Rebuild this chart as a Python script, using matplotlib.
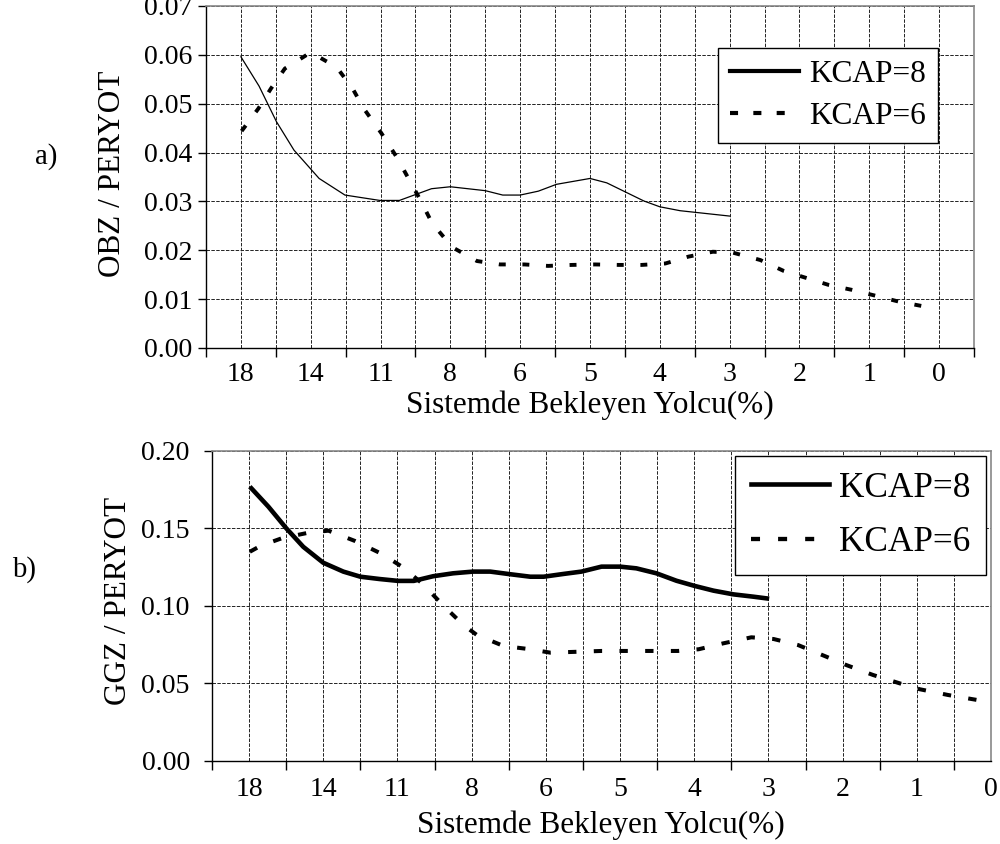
import matplotlib
matplotlib.use("Agg")
import matplotlib.pyplot as plt
from matplotlib.lines import Line2D
import numpy as np

plt.rcParams["font.family"] = ["Liberation Serif", "DejaVu Serif"]
plt.rcParams["lines.scale_dashes"] = False

# ---- shared category axis (labels are % of waiting passengers) ----
categories = ["18", "14", "11", "8", "6", "5", "4", "3", "2", "1", "0"]

# ---- panel a) OBZ / PERYOT  (x in category units, 0 = left edge) ----
a_kcap8_x = [0.50, 0.76, 1.01, 1.26, 1.62, 1.99, 2.49, 2.77, 3.23, 3.50,
             4.00, 4.25, 4.50, 4.76, 5.02, 5.50, 5.74, 6.27, 6.50, 6.79, 7.50]
a_kcap8_y = [0.0596, 0.0536, 0.0463, 0.0405, 0.0347, 0.0313, 0.0302, 0.0302,
             0.0326, 0.0330, 0.0322, 0.0313, 0.0313, 0.0321, 0.0335, 0.0347,
             0.0338, 0.0301, 0.0289, 0.0281, 0.0270]

a_kcap6_x = [0.51, 0.75, 0.93, 1.13, 1.50, 1.87, 2.10, 2.26, 2.51, 2.73,
             2.90, 3.07, 3.24, 3.53, 3.88, 4.21, 4.56, 4.90, 5.24, 5.57,
             5.91, 6.24, 6.58, 6.91, 7.26, 7.55, 7.94, 8.27, 8.56, 8.92,
             9.25, 9.56, 9.92, 10.25]
a_kcap6_y = [0.0444, 0.0490, 0.0531, 0.0572, 0.0605, 0.0575, 0.0531, 0.0490,
             0.0440, 0.0391, 0.0347, 0.0303, 0.0255, 0.0206, 0.0178, 0.0171,
             0.0171, 0.0168, 0.0170, 0.0171, 0.0170, 0.0170, 0.0173, 0.0187,
             0.0197, 0.0195, 0.0180, 0.0158, 0.0145, 0.0129, 0.0119, 0.0108,
             0.0095, 0.0086]

# ---- panel b) GGZ / PERYOT ----
b_kcap8_x = [0.51, 0.76, 1.00, 1.23, 1.50, 1.77, 2.00, 2.26, 2.51, 2.72,
             2.98, 3.25, 3.52, 3.75, 4.02, 4.29, 4.47, 4.74, 4.98, 5.25,
             5.50, 5.72, 5.99, 6.26, 6.51, 6.76, 7.03, 7.30, 7.51]
b_kcap8_y = [0.1768, 0.1639, 0.1500, 0.1380, 0.1277, 0.1220, 0.1187, 0.1172,
             0.1160, 0.1160, 0.1190, 0.1209, 0.1220, 0.1220, 0.1203, 0.1187,
             0.1187, 0.1205, 0.1220, 0.1252, 0.1252, 0.1241, 0.1209, 0.1161,
             0.1127, 0.1097, 0.1073, 0.1058, 0.1045]

b_kcap6_x = [0.51, 0.65, 0.94, 1.30, 1.57, 1.93, 2.29, 2.56, 2.83, 3.12,
             3.39, 3.57, 3.93, 4.29, 4.56, 4.94, 5.25, 5.57, 5.93, 6.28,
             6.56, 6.89, 7.27, 7.57, 7.90, 8.28, 8.55, 8.91, 9.27, 9.54,
             9.92, 10.31]
b_kcap6_y = [0.1348, 0.1385, 0.1435, 0.1471, 0.1484, 0.1417, 0.1334, 0.1252,
             0.1145, 0.1000, 0.0875, 0.0811, 0.0740, 0.0719, 0.0697, 0.0703,
             0.0708, 0.0708, 0.0708, 0.0708, 0.0719, 0.0757, 0.0796, 0.0785,
             0.0746, 0.0671, 0.0617, 0.0553, 0.0499, 0.0461, 0.0424, 0.0392]

xlabel = "Sistemde Bekleyen Yolcu(%)"


def style_axis(ax, xmax, yticks, tick_fs, xpad, ypad):
    n = len(categories)
    ax.set_xlim(0, xmax)
    ax.set_ylim(yticks[0], yticks[-1])
    # tick marks on category boundaries, labels in the middle
    ax.set_xticks(np.arange(0, int(xmax) + 1))
    ax.set_xticklabels([])
    ax.set_xticks(np.arange(n) + 0.5, minor=True)
    ax.set_xticklabels(categories, minor=True, fontsize=tick_fs)
    ax.tick_params(axis="x", which="major", direction="out", length=6.5, width=1)
    ax.tick_params(axis="x", which="minor", length=0, pad=xpad)
    ax.set_yticks(yticks)
    ax.set_yticklabels(["%.2f" % v for v in yticks], fontsize=tick_fs)
    ax.tick_params(axis="y", direction="out", length=6, width=1, pad=ypad)
    ax.grid(True, which="both", axis="x", color="#222222", lw=0.7,
            ls=(0, (2.5, 1)))
    ax.grid(True, which="major", axis="y", color="#222222", lw=0.7,
            ls=(0, (2.5, 1)))
    ax.set_axisbelow(True)
    for s in ("top", "right"):
        ax.spines[s].set_color("#888888")
        ax.spines[s].set_linewidth(1.2)
    for s in ("left", "bottom"):
        ax.spines[s].set_color("black")
        ax.spines[s].set_linewidth(1.0)


fig = plt.figure(figsize=(10, 8.44), dpi=100)

# ---------------- panel a ----------------
ax1 = fig.add_axes([0.206, 0.5877, 0.768, 0.4052])
style_axis(ax1, 11, np.round(np.arange(0, 0.0701, 0.01), 2), 20, 10, 4)
ax1.plot(a_kcap8_x, a_kcap8_y, color="black", lw=0.9)
ax1.plot(a_kcap6_x, a_kcap6_y, color="black", lw=2.8, ls=(0, (5, 12)),
         dash_capstyle="butt")
h1 = [Line2D([], [], color="black", lw=3.0),
      Line2D([], [], color="black", lw=3.0, ls=(0, (5.8, 11)))]
leg1 = ax1.legend(h1, ["KCAP=8", "KCAP=6"], loc="upper right",
                  bbox_to_anchor=(0.9535, 0.878), fontsize=22.6,
                  frameon=True, fancybox=False, framealpha=1,
                  edgecolor="black", handlelength=2.2, handletextpad=0.3,
                  labelspacing=0.4, borderpad=0.4, borderaxespad=0)
leg1.get_frame().set_linewidth(1.0)

# ---------------- panel b ----------------
ax2 = fig.add_axes([0.212, 0.0987, 0.779, 0.3673])
style_axis(ax2, 10.5, np.round(np.arange(0, 0.2001, 0.05), 2), 20, 12, 10)
ax2.plot(b_kcap8_x, b_kcap8_y, color="black", lw=3.3, solid_capstyle="butt")
ax2.plot(b_kcap6_x, b_kcap6_y, color="black", lw=2.9, ls=(0, (6, 12.5)),
         dash_capstyle="butt")
h2 = [Line2D([], [], color="black", lw=3.3),
      Line2D([], [], color="black", lw=3.1, ls=(0, (6.5, 13)))]
leg2 = ax2.legend(h2, ["KCAP=8", "KCAP=6"], loc="upper right",
                  bbox_to_anchor=(0.9936, 0.983), fontsize=25.4,
                  frameon=True, fancybox=False, framealpha=1,
                  edgecolor="black", handlelength=2.2, handletextpad=0.28,
                  labelspacing=0.6, borderpad=0.45, borderaxespad=0)
leg2.get_frame().set_linewidth(1.0)

# ---------------- texts ----------------
fig.text(0.112, 1 - 174 / 844, "OBZ / PERYOT", rotation=90, fontsize=22.5,
         ha="center", va="center")
fig.text(0.118, 1 - 601 / 844, "GGZ / PERYOT", rotation=90, fontsize=22.5,
         ha="center", va="center")
fig.text(0.590, 1 - 412.5 / 844, xlabel, fontsize=22.5, ha="center",
         va="baseline")
fig.text(0.601, 1 - 832.5 / 844, xlabel, fontsize=22.5, ha="center",
         va="baseline")
fig.text(0.035, 1 - 157 / 844, "a)", fontsize=20.7, ha="left", va="center")
fig.text(0.012, 1 - 570 / 844, "b)", fontsize=20.7, ha="left", va="center")

fig.savefig("out.png", dpi=100)
